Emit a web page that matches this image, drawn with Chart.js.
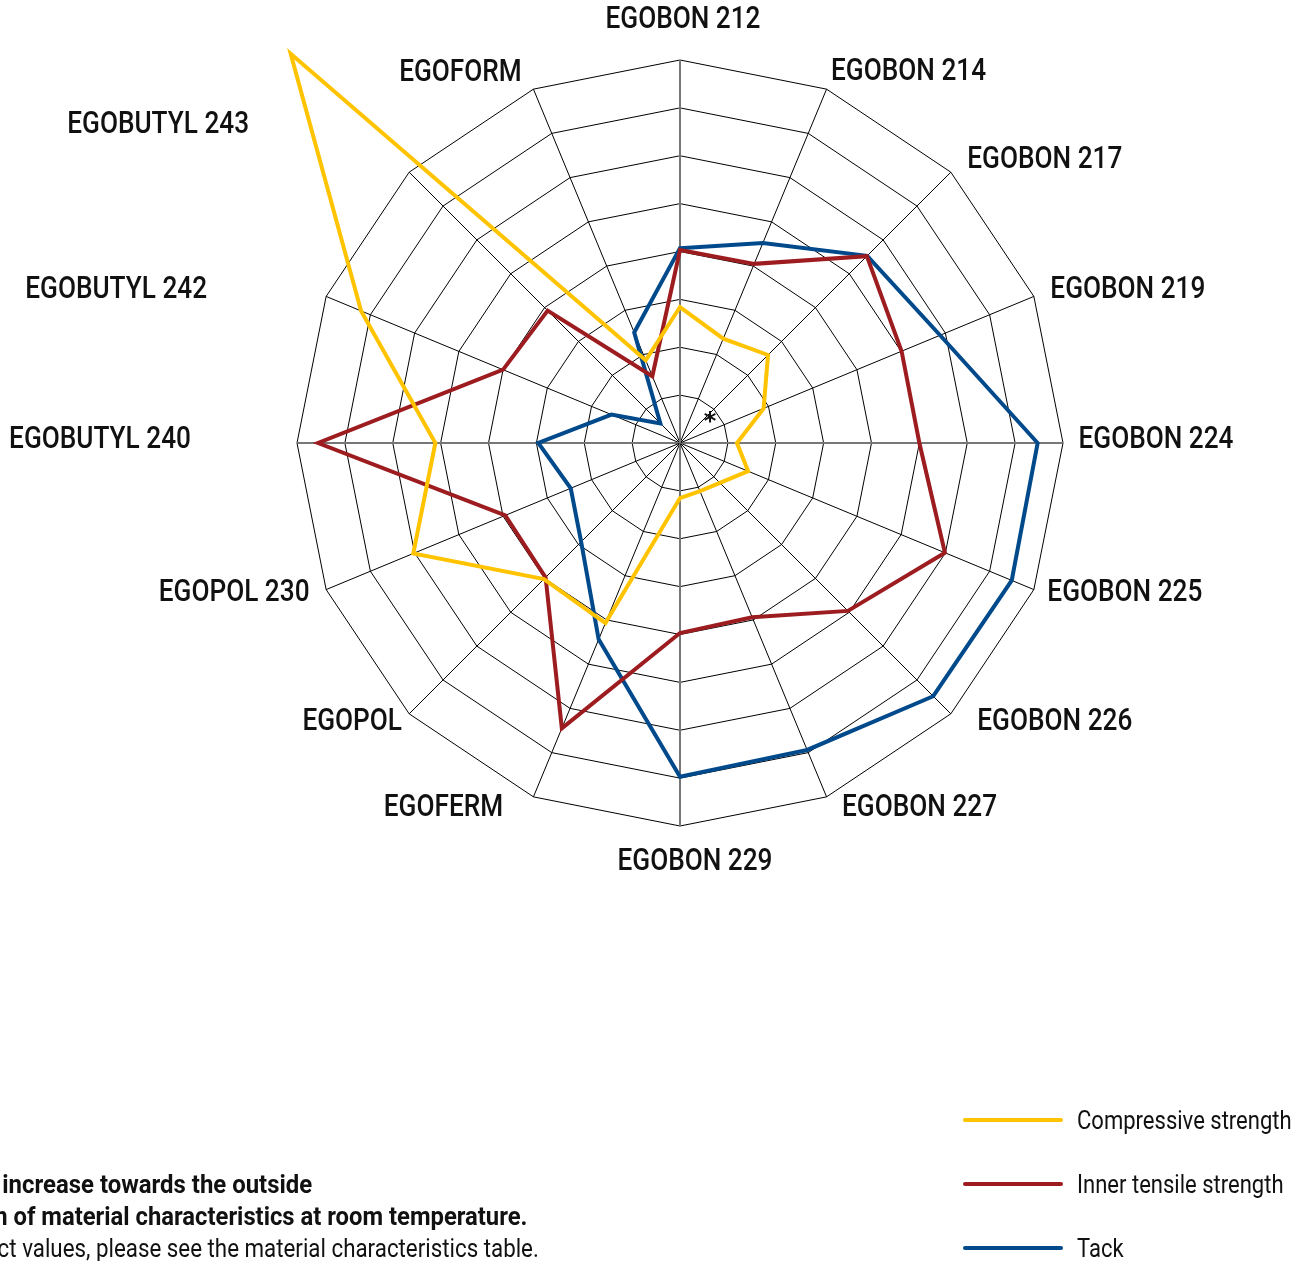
<!DOCTYPE html>
<html>
<head>
<meta charset="utf-8">
<script src="https://cdn.jsdelivr.net/npm/chart.js@4.4.0/dist/chart.umd.min.js"></script>
<style>
    body { margin: 0; background: #fff; overflow: hidden; }
    #wrap { position: relative; width: 1311px; height: 1261px; overflow: hidden;
            font-family: Roboto, 'Liberation Sans', sans-serif; color: #111; }
    #chart-box { position: absolute; left: 0; top: 0; width: 1311px; height: 1261px; }
    .note { position: absolute; white-space: nowrap; font-size: 25px; transform-origin: right center; }
    .note.b { font-weight: bold; }
    .leg { position: absolute; left: 963px; height: 30px; display: flex; align-items: center; white-space: nowrap; }
    .leg .sw { display: inline-block; width: 100px; height: 4px; border-radius: 2px; margin-right: 14px; flex: none; }
    .leg .lt { display: inline-block; font-size: 25px; transform-origin: left center; }
</style>
</head>
<body>
<div id="wrap">
    <div id="chart-box"><canvas id="radar-chart"></canvas></div>

    <div class="note b" style="right: 999px; top: 1170px;" data-w="310">Values <span class="vis">increase towards the outside</span></div>
    <div class="note b" style="right: 784px; top: 1202px;" data-w="514">Comparison <span class="vis">of material characteristics at room temperature.</span></div>
    <div class="note" style="right: 772px; top: 1234px;" data-w="517">For exact <span class="vis">values, please see the material characteristics table.</span></div>

    <div id="legend"></div>
</div>

<script>
// axes (clockwise from the top)
const materials = [
    'EGOBON 212', 'EGOBON 214', 'EGOBON 217', 'EGOBON 219', 'EGOBON 224', 'EGOBON 225',
    'EGOBON 226', 'EGOBON 227', 'EGOBON 229', 'EGOFERM', 'EGOPOL', 'EGOPOL 230',
    'EGOBUTYL 240', 'EGOBUTYL 242', 'EGOBUTYL 243', 'EGOFORM'
];

// relative values, 0 = centre, 8 = outer ring
const compressiveStrength = [2.84, 2.36, 2.6, 1.89, 1.19, 1.54, 1.18, 1.09, 1.15, 4.07, 4.02, 6.03, 5.11, 7.21, 11.5, 1.87];
const innerTensileStrength = [4.03, 4.05, 5.52, 5.01, 5.0, 5.99, 4.96, 3.94, 3.97, 6.45, 3.97, 3.95, 7.56, 4.0, 3.91, 1.51];
const tack = [4.07, 4.52, 5.53, 5.88, 7.47, 7.5, 7.48, 6.94, 6.97, 4.44, 2.92, 2.47, 2.96, 1.55, 0.58, 2.5];

const seriesNames = ['Compressive strength', 'Inner tensile strength', 'Tack'];
const seriesColors = ['#FFC300', '#9D1C1F', '#004A8C'];

// label placement relative to the end of each spoke (px)
const labelOffsets = [
    [3, -40], [82, -17], [94, -12], [94, -6], [93, -3], [91, 4], [104, 8], [93, 11],
    [15, 36], [-90, 11], [-57, 8], [-92, 4], [-197, -3], [-210, -6], [-251, -47], [-73, -16]
];

// legend (html)
const legendBox = document.getElementById('legend');
[1120, 1184, 1248].forEach((y, i) => {
    const row = document.createElement('div');
    row.className = 'leg';
    row.style.top = (y - 15) + 'px';
    row.innerHTML = '<span class="sw" style="background:' + seriesColors[i] + '"></span><span class="lt">' + seriesNames[i] + '</span>';
    legendBox.appendChild(row);
});

// narrow the html text so it looks like the condensed face of the original
const firstText = legendBox.querySelector('.lt');
const squeeze = 215 / firstText.offsetWidth;
document.querySelectorAll('.lt').forEach(el => {
    el.style.transform = 'scaleX(' + squeeze.toFixed(3) + ')';
});
document.querySelectorAll('.note').forEach(el => {
    const vis = el.querySelector('.vis');
    const s = Number(el.dataset.w) / vis.offsetWidth;
    el.style.transform = 'scaleX(' + s.toFixed(3) + ')';
});

const labelFont = '500 31px Roboto, "Liberation Sans", sans-serif';

const axisLabels = {
    id: 'axisLabels',
    afterDraw(chart) {
        const scale = chart.scales.r;
        const ctx = chart.ctx;
        ctx.save();
        ctx.fillStyle = '#111';
        ctx.font = labelFont;
        ctx.textAlign = 'center';
        ctx.textBaseline = 'middle';
        const sx = 155 / ctx.measureText('EGOBON 212').width;
        materials.forEach((name, i) => {
            const p = scale.getPointPosition(i, scale.drawingArea);
            ctx.save();
            ctx.translate(p.x + labelOffsets[i][0], p.y + labelOffsets[i][1]);
            ctx.scale(sx, 1);
            ctx.fillText(name, 0, 0);
            ctx.restore();
        });
        ctx.font = 'bold 24px "DejaVu Sans", sans-serif';
        ctx.fillText('*', scale.xCenter + 30, scale.yCenter - 20);
        ctx.restore();
    }
};

function makeDataset(label, values, color) {
    return {
        label: label,
        data: values,
        borderColor: color,
        backgroundColor: color,
        borderWidth: 4,
        pointRadius: 0,
        pointHoverRadius: 0,
        fill: false,
        tension: 0,
        clip: false
    };
}

new Chart(document.getElementById('radar-chart'), {
    type: 'radar',
    data: {
        labels: materials,
        datasets: [
            makeDataset(seriesNames[0], compressiveStrength, seriesColors[0]),
            makeDataset(seriesNames[1], innerTensileStrength, seriesColors[1]),
            makeDataset(seriesNames[2], tack, seriesColors[2])
        ]
    },
    options: {
        responsive: true,
        maintainAspectRatio: false,
        animation: false,
        layout: { padding: { left: 297, top: 60, right: 248, bottom: 435 } },
        plugins: {
            legend: { display: false },
            tooltip: { enabled: false }
        },
        elements: { line: { borderJoinStyle: 'miter' } },
        scales: {
            r: {
                min: 0,
                max: 8,
                ticks: { display: false, stepSize: 1 },
                pointLabels: { display: false },
                grid: { color: '#000', lineWidth: 1 },
                angleLines: {
                    color: ctx => ctx.index % 4 === 0 ? '#777' : '#000',
                    lineWidth: ctx => ctx.index % 4 === 0 ? 2 : 1
                }
            }
        }
    },
    plugins: [axisLabels]
});
</script>
</body>
</html>
